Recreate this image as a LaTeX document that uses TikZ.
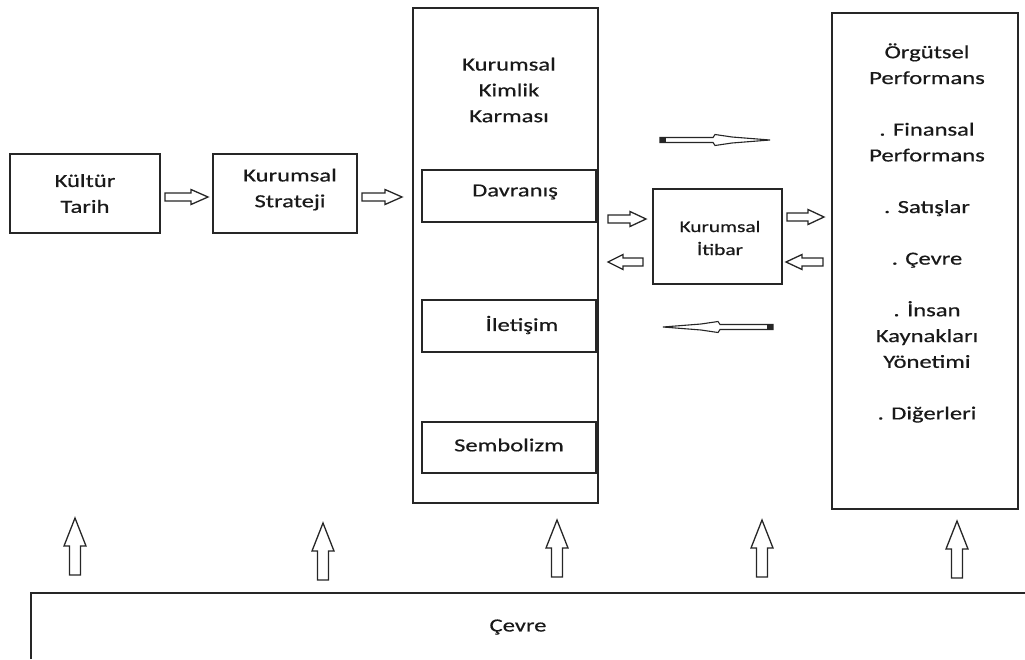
\documentclass[tikz,border=0pt]{standalone}
\usepackage{fontspec}
\newfontfamily\diagfont[FakeStretch=1.33,FakeBold=0.5]{Carlito}
\begin{document}
\begin{tikzpicture}[x=1pt,y=-1pt,
  box/.style={draw=black!85,line width=1.5pt,inner sep=0pt},
  txt/.style={align=center,inner sep=0pt,text=black!90,font=\diagfont\fontsize{18.5}{25.8}\selectfont},
  smalltxt/.style={align=center,inner sep=0pt,text=black!90,font=\diagfont\fontsize{16}{23}\selectfont},
  blockarr/.style={draw=black!85,line width=1.3pt,fill=white,line join=miter}]
\useasboundingbox (0,0) rectangle (1025,659);

% block arrow: tail x, tail y, angle, length, shaft half-width, head half-width, head length
\newcommand{\blk}[7]{%
  \draw[blockarr,shift={(#1,#2)},rotate=#3]
    (0,-#5) -- ({#4-#7},-#5) -- ({#4-#7},-#6) -- (#4,0) -- ({#4-#7},#6)
    -- ({#4-#7},#5) -- (0,#5) -- cycle;}
% long slim arrow with a dark tail block
\newcommand{\slim}[3]{%
  \begin{scope}[shift={(#1,#2)},rotate=#3]
    \draw[blockarr,line width=1.1pt] (0,-2.5) -- (53,-2.5) -- (55,-5.5) -- (72,-3) -- (110,0)
      -- (72,3) -- (55,5.5) -- (53,2.5) -- (0,2.5) -- cycle;
    \fill[black!85] (0,-3.2) rectangle (6,3.2);
  \end{scope}}

% boxes
\node[box,minimum width=150,minimum height=79] (kultur) at (85,193.5) {};
\node[txt] (kulturT) at (85,193.5) {Kültür\\Tarih};
\node[box,minimum width=144,minimum height=79] (strateji) at (285,193.5) {};
\node[txt] (stratejiT) at (290,189.5) {Kurumsal\\Strateji};

\node[box,minimum width=185,minimum height=495] (kimlik) at (505.5,255.5) {};
\node[txt] (kimlikT) at (509,90) {Kurumsal\\Kimlik\\Karması};
\node[box,minimum width=174,minimum height=52] (davranis) at (509,196) {};
\node[txt] (davranisT) at (515,192) {Davranış};
\node[box,minimum width=174,minimum height=52] (iletisim) at (509,326) {};
\node[txt] (iletisimT) at (522,325) {İletişim};
\node[box,minimum width=174,minimum height=51] (sembolizm) at (509,447.5) {};
\node[txt] (sembolizmT) at (509,445) {Sembolizm};

\node[box,minimum width=129,minimum height=95] (itibar) at (717.5,236.5) {};
\node[smalltxt] (itibarT) at (720,238) {Kurumsal\\İtibar};

\node[box,minimum width=186,minimum height=496] (perf) at (925,261) {};
\node[txt] (perfT) at (927,233) {Örgütsel\\Performans\\[25.8pt]. Finansal\\Performans\\[25.8pt]. Satışlar\\[25.8pt]. Çevre\\[25.8pt]. İnsan\\Kaynakları\\Yönetimi\\[25.8pt]. Diğerleri};

% environment band along the bottom
\draw[draw=black!85,line width=1.5pt] (31,659) -- (31,593) -- (1025,593);
\node[txt] (cevre) at (518,627) {Çevre};

% horizontal block arrows
\blk{165}{197}{0}{43}{4}{7.5}{17}
\blk{362}{197}{0}{40}{4}{7.5}{17}
\blk{608}{219}{0}{38}{4}{7.5}{16}
\blk{643}{262}{180}{35}{4}{7.5}{15}
\blk{787}{217}{0}{37}{4}{7.5}{16}
\blk{823}{262}{180}{37}{4}{7.5}{16}

% slim arrows between identity mix and performance
\slim{660}{140}{0}
\slim{773}{327}{180}

% upward arrows from the environment
\blk{75}{575}{90}{57}{5.5}{11}{28}
\blk{323}{580}{90}{57}{5.5}{11}{28}
\blk{557}{577}{90}{57}{5.5}{11}{28}
\blk{762}{577}{90}{57}{5.5}{11}{28}
\blk{957}{578}{90}{57}{5.5}{11}{28}
\end{tikzpicture}
\end{document}
